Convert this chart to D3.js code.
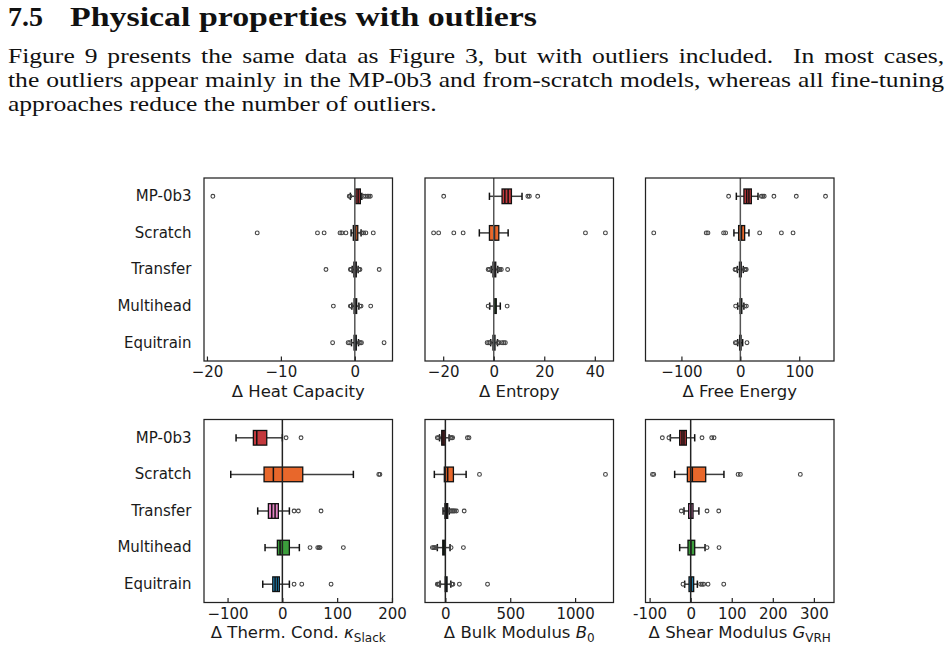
<!DOCTYPE html>
<html><head><meta charset="utf-8">
<script src="https://cdn.jsdelivr.net/npm/d3@7"></script>
<style>body{margin:0;background:#fff}svg{display:block}</style>
</head><body><svg id="c" width="952" height="648"></svg>
<script>
// ---------- data ----------
const categories = ["MP-0b3", "Scratch", "Transfer", "Multihead", "Equitrain"];
const colors = ["#c4393d", "#e8672b", "#e383c4", "#3c9e3c", "#1f9ad6"];

// each row: lo whisker, q1, median, mean (null = not shown), q3, hi whisker, outliers
const heatCapacity = [
  {lo: -0.6, q1: 0.15, med: 0.45, mean: null, q3: 0.75, hi: 0.95, out: [-19.2, -0.75, -0.65, 1.2, 1.45, 1.7, 1.9, 2.1]},
  {lo: -0.5, q1: -0.2, med: 0.1, mean: null, q3: 0.4, hi: 0.85, out: [-13.2, -5.05, -4.15, -2.0, -1.75, -1.2, 0.95, 1.2, 1.5, 2.5]},
  {lo: -0.35, q1: -0.12, med: 0.05, mean: null, q3: 0.2, hi: 0.45, out: [-3.9, -0.6, -0.5, 0.55, 0.7, 3.3]},
  {lo: -0.4, q1: -0.1, med: 0.08, mean: null, q3: 0.25, hi: 0.55, out: [-2.9, -0.6, -0.5, 0.7, 0.85, 2.15]},
  {lo: -0.45, q1: -0.1, med: 0.05, mean: null, q3: 0.2, hi: 0.5, out: [-3.0, -0.9, -0.7, 0.6, 0.75, 0.9, 3.96]}
];
const entropy = [
  {lo: -1.7, q1: 3.3, med: 4.4, mean: 5.7, q3: 7.0, hi: 11.2, out: [-19.8, 13.5, 14.1, 17.4]},
  {lo: -5.7, q1: -1.7, med: 0.3, mean: null, q3: 2.0, hi: 5.7, out: [-23.8, -21.8, -15.8, -12.1, 36.3, 44.2]},
  {lo: -1.0, q1: -0.3, med: 0.3, mean: null, q3: 0.8, hi: 1.6, out: [-2.2, -1.7, 1.9, 2.4, 3.0, 5.5]},
  {lo: -1.6, q1: 0.0, med: 0.5, mean: null, q3: 1.0, hi: 2.6, out: [-2.2, 5.3]},
  {lo: -1.2, q1: -0.3, med: 0.1, mean: null, q3: 0.5, hi: 1.5, out: [-2.6, -2.0, -1.5, 1.6, 2.2, 3.3, 4.0, 4.6]}
];
const freeEnergy = [
  {lo: -6.8, q1: 6.1, med: 10.7, mean: 14.6, q3: 18.7, hi: 30, out: [-19.9, 35.7, 38, 40.5, 57, 95, 144.6]},
  {lo: -10.9, q1: -2.9, med: 2.0, mean: null, q3: 7.3, hi: 14.6, out: [-147, -57.9, -55, -28.4, -25, 32.8, 69.7, 89.5]},
  {lo: -5, q1: -1.5, med: 0, mean: null, q3: 1.5, hi: 5, out: [-9, -7.5, 7, 8.5, 10]},
  {lo: -4.5, q1: -0.5, med: 1, mean: null, q3: 2.5, hi: 6, out: [-8, 7.3, 10.2]},
  {lo: -4.5, q1: -1.2, med: 0, mean: null, q3: 1.2, hi: 4, out: [-8.5, -6.5, 11.3]}
];
const thermCond = [
  {lo: -84.5, q1: -52.9, med: -46.7, mean: null, q3: -28.5, hi: 0, out: [6.75, 34.1]},
  {lo: -94.2, q1: -33.4, med: -16.4, mean: null, q3: 37.2, hi: 129.6, out: [176, 178]},
  {lo: -45, q1: -25.5, med: -19.3, mean: -13.3, q3: -7.3, hi: 12.8, out: [21.4, 29.2, 70.6]},
  {lo: -31.6, q1: -9.1, med: -4.2, mean: null, q3: 12.8, hi: 31, out: [50.5, 64.6, 67, 68.8, 111.3]},
  {lo: -35.8, q1: -17.5, med: -13.3, mean: -9.1, q3: -5.5, hi: 12.8, out: [21.4, 35.4, 88.9]}
];
const bulkModulus = [
  {lo: -45, q1: -28, med: -18, mean: null, q3: -3, hi: 29, out: [-62, -52, 40, 48, 56, 170, 182]},
  {lo: -85, q1: -8, med: 18, mean: null, q3: 62, hi: 160, out: [263, 1234]},
  {lo: -18, q1: -3, med: 8, mean: null, q3: 18, hi: 30, out: [38, 46, 55, 63, 72, 85, 145]},
  {lo: -62, q1: -20, med: -12, mean: null, q3: -4, hi: 36, out: [-100, -90, -82, -72, 44, 139]},
  {lo: -41, q1: -1, med: 6, mean: null, q3: 13, hi: 42, out: [-62, -55, -48, 50, 58, 108, 325]}
];
const shearModulus = [
  {lo: -49.5, q1: -26.8, med: -21.2, mean: -16.3, q3: -10.5, hi: 9.8, out: [-69, -53, 27.6, 51.2, 56.9]},
  {lo: -39, q1: -8.1, med: 4, mean: null, q3: 36.6, hi: 81, out: [-93, -90, 115.5, 121, 267]},
  {lo: -16.3, q1: -4.9, med: 0.5, mean: null, q3: 5.7, hi: 20, out: [-22.8, 39.8, 68.3]},
  {lo: -26.8, q1: -6.5, med: 0.5, mean: null, q3: 9.8, hi: 35, out: [39.8, 69]},
  {lo: -14.6, q1: -4, med: 2, mean: null, q3: 7.3, hi: 16.3, out: [-18.7, 24.4, 28, 31.7, 42.3, 80.5]}
];

const heatTicks = [-20, -10, 0];
const entropyTicks = [-20, 0, 20, 40];
const freeTicks = [-100, 0, 100];
const thermTicks = [-100, 0, 100, 200];
const bulkTicks = [0, 500, 1000];
const shearTicks = [-100, 0, 100, 200, 300];

const titleNumber = "7.5";
const titleText = "Physical properties with outliers";
const paragraph = [
  "Figure 9 presents the same data as Figure 3, but with outliers included.  In most cases,",
  "the outliers appear mainly in the MP-0b3 and from-scratch models, whereas all fine-tuning",
  "approaches reduce the number of outliers."
];

// ---------- layout ----------
const svg = d3.select("#c");
const FONT = "DejaVu Sans";
const colX = [204, 425, 645.5];
const rowY = [178, 419.5];
const PW = 188.5, PH = 183;

const panels = [
  {data: heatCapacity, domain: [-20.4, 5.1], ticks: heatTicks, label: [{t: "Δ Heat Capacity"}], col: 0, row: 0},
  {data: entropy, domain: [-27.2, 47.4], ticks: entropyTicks, label: [{t: "Δ Entropy"}], col: 1, row: 0},
  {data: freeEnergy, domain: [-161, 159], ticks: freeTicks, label: [{t: "Δ Free Energy"}], col: 2, row: 0},
  {data: thermCond, domain: [-143, 201], ticks: thermTicks, label: [{t: "Δ Therm. Cond. "}, {t: "κ", it: true}, {t: "Slack", sub: true}], col: 0, row: 1},
  {data: bulkModulus, domain: [-157, 1296], ticks: bulkTicks, label: [{t: "Δ Bulk Modulus "}, {t: "B", it: true}, {t: "0", sub: true}], col: 1, row: 1},
  {data: shearModulus, domain: [-110, 349], ticks: shearTicks, label: [{t: "Δ Shear Modulus "}, {t: "G", it: true}, {t: "VRH", sub: true}], col: 2, row: 1, hyphen: true}
];

// ---------- header text ----------
svg.append("text").attr("x", 8).attr("y", 26)
  .attr("font-family", "Liberation Serif").attr("font-weight", "bold").attr("font-size", 28)
  .attr("fill", "#111").text(titleNumber);
svg.append("text").attr("x", 70).attr("y", 26)
  .attr("font-family", "Liberation Serif").attr("font-weight", "bold").attr("font-size", 28)
  .attr("fill", "#111").attr("textLength", 467).attr("lengthAdjust", "spacingAndGlyphs").text(titleText);

// paragraph: horizontally scaled serif, justified via word spacing
const paraTargets = [937, 937, 429];
const paraNodes = paragraph.map((line, i) =>
  svg.append("text").attr("x", 0).attr("y", 0)
    .attr("font-family", "Liberation Serif").attr("font-size", 20).attr("fill", "#111")
    .style("white-space", "pre").text(line));
const nat = paraNodes.map(n => n.node().getComputedTextLength());
const sx = paraTargets[2] / nat[2];
paraNodes.forEach((n, i) => {
  n.attr("transform", `translate(8,${63 + i * 24}) scale(${sx},1)`);
  if (i < 2) {
    const spaces = (paragraph[i].match(/ /g) || []).length;
    const ws = (paraTargets[i] / sx - nat[i]) / spaces;
    n.attr("word-spacing", ws);
  }
});

// ---------- panels ----------
panels.forEach(p => {
  const g = svg.append("g").attr("transform", `translate(${colX[p.col]},${rowY[p.row]})`);
  const x = d3.scaleLinear().domain(p.domain).range([0, PW]);
  const y = d3.scaleBand().domain(categories).range([0, PH]).paddingInner(0).paddingOuter(0);
  const bh = y.bandwidth() * 0.4;
  const cy = c => y(c) + y.bandwidth() / 2;

  const rows = p.data.map((d, i) => Object.assign({cat: categories[i], color: colors[i]}, d));
  const rg = g.selectAll("g.row").data(rows).join("g").attr("class", "row");

  // whiskers
  rg.append("line").attr("x1", d => x(d.lo)).attr("x2", d => x(d.q1))
    .attr("y1", d => cy(d.cat)).attr("y2", d => cy(d.cat)).attr("stroke", "#3d3d3d").attr("stroke-width", 1.5);
  rg.append("line").attr("x1", d => x(d.q3)).attr("x2", d => x(d.hi))
    .attr("y1", d => cy(d.cat)).attr("y2", d => cy(d.cat)).attr("stroke", "#3d3d3d").attr("stroke-width", 1.5);
  // caps
  ["lo", "hi"].forEach(k => {
    rg.append("line").attr("x1", d => x(d[k])).attr("x2", d => x(d[k]))
      .attr("y1", d => cy(d.cat) - bh / 4).attr("y2", d => cy(d.cat) + bh / 4)
      .attr("stroke", "#111").attr("stroke-width", 1.5);
  });
  // box
  rg.append("rect").attr("x", d => x(d.q1)).attr("width", d => Math.max(0, x(d.q3) - x(d.q1)))
    .attr("y", d => cy(d.cat) - bh / 2).attr("height", bh)
    .attr("fill", d => d.color).attr("stroke", "#111").attr("stroke-width", 1.3);
  // median
  rg.append("line").attr("x1", d => x(d.med)).attr("x2", d => x(d.med))
    .attr("y1", d => cy(d.cat) - bh / 2).attr("y2", d => cy(d.cat) + bh / 2)
    .attr("stroke", "#111").attr("stroke-width", 1.5);
  // mean
  rg.filter(d => d.mean !== null).append("line").attr("x1", d => x(d.mean)).attr("x2", d => x(d.mean))
    .attr("y1", d => cy(d.cat) - bh / 2).attr("y2", d => cy(d.cat) + bh / 2)
    .attr("stroke", "#111").attr("stroke-width", 1.5);
  // outliers
  rg.selectAll("circle").data(d => d.out.map(v => ({v, cat: d.cat}))).join("circle")
    .attr("cx", d => x(d.v)).attr("cy", d => cy(d.cat)).attr("r", 1.9)
    .attr("fill", "none").attr("stroke", "#444").attr("stroke-width", 1.1);

  // zero line
  g.append("line").attr("x1", x(0)).attr("x2", x(0)).attr("y1", 0).attr("y2", PH)
    .attr("stroke", p.row === 0 ? "#555" : "#222").attr("stroke-width", 1.5);

  // frame
  g.append("rect").attr("x", 0).attr("y", 0).attr("width", PW).attr("height", PH)
    .attr("fill", "none").attr("stroke", "#222").attr("stroke-width", 1.25);

  // x axis (ticks inward)
  const fmt = p.hyphen ? (d => String(d)) : d3.format("d");
  const ax = g.append("g").attr("transform", `translate(0,${PH})`)
    .call(d3.axisBottom(x).tickValues(p.ticks).tickSizeInner(-4.5).tickSizeOuter(0).tickPadding(5.5).tickFormat(fmt));
  ax.select(".domain").remove();
  ax.selectAll("line").attr("stroke", "#222").attr("stroke-width", 1.2);
  ax.selectAll("text").attr("font-family", FONT).attr("font-size", 15).attr("fill", "#1a1a1a");

  // x label
  const lab = g.append("text").attr("x", PW / 2).attr("y", PH + 35.5).attr("text-anchor", "middle")
    .attr("font-family", FONT).attr("font-size", 16.5).attr("fill", "#1a1a1a");
  p.label.forEach(s => {
    const ts = lab.append("tspan").text(s.t);
    if (s.it) ts.attr("font-style", "italic");
    if (s.sub) ts.attr("font-size", 12).attr("dy", 4);
  });

  // y axis labels for first column
  if (p.col === 0) {
    const ay = g.append("g").call(d3.axisLeft(y).tickSize(0).tickPadding(12.5));
    ay.select(".domain").remove();
    ay.selectAll("text").attr("font-family", FONT).attr("font-size", 15).attr("fill", "#1a1a1a");
  }
});
</script>
</body></html>
